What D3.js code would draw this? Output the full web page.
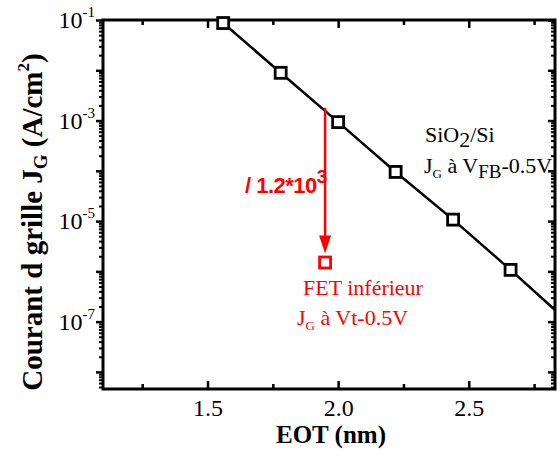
<!DOCTYPE html>
<html><head><meta charset="utf-8">
<script src="https://cdn.jsdelivr.net/npm/d3@7"></script>
<style>body{margin:0;background:#fff}</style>
</head><body><svg id="c" width="557" height="450"></svg>
<script>
// Data
const eot = [1.56, 1.78, 2.0, 2.22, 2.44, 2.66];           // nm
const jg  = [0.087, 8.9e-3, 9.3e-4, 9.5e-5, 1.07e-5, 1.07e-6]; // A/cm2
const extEOT = [2.83];   // fit line continues to the frame edge
const extJG  = [1.7e-7];
const fetEOT = [1.95];   // FET inférieur point
const fetJG  = [1.5e-6];
const arrowFromJG = [1.8e-3];
const xMajor = [1.5, 2.0, 2.5];
const xMinor = [1.25, 1.75, 2.25, 2.75];
const yLabelExp = [-1, -3, -5, -7];

const W = 557, H = 450;
const L = 103, R = 555, T = 20, B = 389;
const svg = d3.select("#c");
svg.append("rect").attr("width", W).attr("height", H).attr("fill", "#fff");

const x = d3.scaleLinear().domain([1.1, 2.83]).range([L, R]);
const y = d3.scaleLog().domain([Math.pow(10, -8.34), 0.1]).range([B, T]);

const decades = d3.range(-1, -9, -1).map(e => Math.pow(10, e));
const yMinor = [];
for (let e = -9; e <= -2; e++) for (let m = 2; m <= 9; m++) {
  const v = m * Math.pow(10, e);
  if (v >= y.domain()[0] && v <= y.domain()[1]) yMinor.push(v);
}

function styleAxis(g, sw) {
  g.select(".domain").remove();
  g.selectAll(".tick line").attr("stroke", "#000").attr("stroke-width", sw);
}
const serif = "'Liberation Serif', 'Times New Roman', serif";

// bottom
svg.append("g").attr("transform", `translate(0,${B})`)
  .call(d3.axisBottom(x).tickValues(xMajor).tickSize(-8).tickPadding(10).tickFormat(d3.format(".1f")))
  .call(g => styleAxis(g, 2.5))
  .call(g => g.selectAll("text").attr("font-family", serif).attr("font-size", 24).attr("fill", "#000"));
svg.append("g").attr("transform", `translate(0,${B})`)
  .call(d3.axisBottom(x).tickValues(xMinor).tickSize(-5).tickFormat(""))
  .call(g => styleAxis(g, 2.5));
// top
svg.append("g").attr("transform", `translate(0,${T})`)
  .call(d3.axisTop(x).tickValues(xMajor).tickSize(-8).tickFormat(""))
  .call(g => styleAxis(g, 2.5));
svg.append("g").attr("transform", `translate(0,${T})`)
  .call(d3.axisTop(x).tickValues(xMinor).tickSize(-5).tickFormat(""))
  .call(g => styleAxis(g, 2.5));
// left (outward)
svg.append("g").attr("transform", `translate(${L},0)`)
  .call(d3.axisLeft(y).tickValues(decades).tickSize(7).tickFormat(""))
  .call(g => styleAxis(g, 2.5));
svg.append("g").attr("transform", `translate(${L},0)`)
  .call(d3.axisLeft(y).tickValues(yMinor).tickSize(4).tickFormat(""))
  .call(g => styleAxis(g, 2));
// right (inward)
svg.append("g").attr("transform", `translate(${R},0)`)
  .call(d3.axisRight(y).tickValues(decades).tickSize(-7).tickFormat(""))
  .call(g => styleAxis(g, 2.5));
svg.append("g").attr("transform", `translate(${R},0)`)
  .call(d3.axisRight(y).tickValues(yMinor).tickSize(-4).tickFormat(""))
  .call(g => styleAxis(g, 2));

// frame
svg.append("rect").attr("x", L).attr("y", T).attr("width", R - L).attr("height", B - T)
  .attr("fill", "none").attr("stroke", "#000").attr("stroke-width", 3);

// y tick labels
yLabelExp.forEach(e => {
  const t = svg.append("text").attr("x", L - 8).attr("y", y(Math.pow(10, e)) + 8)
    .attr("text-anchor", "end").attr("font-family", serif).attr("font-size", 24).attr("fill", "#000");
  t.append("tspan").text("10");
  t.append("tspan").attr("font-size", 15).attr("dy", -11).text("-" + Math.abs(e));
});

// axis titles
svg.append("text").attr("x", (L + R) / 2 + 2).attr("y", 443).attr("text-anchor", "middle")
  .attr("font-family", serif).attr("font-weight", "bold").attr("font-size", 25).text("EOT (nm)");
const yt = svg.append("text").attr("transform", `translate(42,222) rotate(-90)`).attr("text-anchor", "middle")
  .attr("font-family", serif).attr("font-weight", "bold").attr("font-size", 29);
yt.append("tspan").text("Courant d grille J");
yt.append("tspan").attr("font-size", 19).attr("dy", 5).text("G");
yt.append("tspan").attr("dy", -5).text(" (A/cm");
yt.append("tspan").attr("font-size", 17).attr("dy", -13).text("2");
yt.append("tspan").attr("dy", 13).text(")");

// clip
svg.append("clipPath").attr("id", "clip").append("rect")
  .attr("x", L).attr("y", T).attr("width", R - L).attr("height", B - T);

// fit line
const lineData = eot.map((d, i) => [d, jg[i]]).concat(extEOT.map((d, i) => [d, extJG[i]]));
svg.append("path").datum(lineData).attr("clip-path", "url(#clip)")
  .attr("d", d3.line().x(d => x(d[0])).y(d => y(d[1])))
  .attr("fill", "none").attr("stroke", "#000").attr("stroke-width", 2.5);

// black squares
svg.selectAll("rect.pt").data(eot.map((d, i) => [d, jg[i]])).join("rect").attr("class", "pt")
  .attr("x", d => x(d[0]) - 5.5).attr("y", d => y(d[1]) - 5.5).attr("width", 11).attr("height", 11)
  .attr("fill", "#fff").attr("stroke", "#000").attr("stroke-width", 2.8);

// red arrow
const red = "#ff0000";
const ax = x(fetEOT[0]);
const y0 = y(arrowFromJG[0]);
const tipY = y(fetJG[0]) - 9;
svg.append("line").attr("x1", ax).attr("x2", ax).attr("y1", y0).attr("y2", tipY - 12)
  .attr("stroke", red).attr("stroke-width", 2.5);
svg.append("path").attr("d", `M${ax - 6},${tipY - 18} L${ax + 6},${tipY - 18} L${ax},${tipY} Z`).attr("fill", red);
svg.append("rect").attr("x", ax - 5.5).attr("y", y(fetJG[0]) - 5.5).attr("width", 11).attr("height", 11)
  .attr("fill", "#fff").attr("stroke", red).attr("stroke-width", 2.8);

// red factor label
const sans = "'Liberation Sans', Arial, sans-serif";
const rt = svg.append("text").attr("x", 245).attr("y", 193).attr("font-family", sans)
  .attr("font-weight", "bold").attr("font-size", 22).attr("fill", red).attr("letter-spacing", -0.5);
rt.append("tspan").text("/ 1.2*10");
rt.append("tspan").attr("font-size", 19).attr("dy", -10).text("3");

// black annotation
const a1 = svg.append("text").attr("x", 425).attr("y", 142).attr("font-family", serif).attr("font-size", 22);
a1.append("tspan").text("SiO");
a1.append("tspan").attr("dy", 5).text("2");
a1.append("tspan").attr("dy", -5).text("/Si");
const a2 = svg.append("text").attr("x", 424).attr("y", 173).attr("font-family", serif).attr("font-size", 22);
a2.append("tspan").text("J");
a2.append("tspan").attr("font-size", 13).attr("dy", 5).text("G");
a2.append("tspan").attr("dy", -5).text(" à V");
a2.append("tspan").attr("font-size", 19).attr("dy", 5).text("FB");
a2.append("tspan").attr("dy", -5).text("-0.5V");

// red annotation
svg.append("text").attr("x", 303).attr("y", 295).attr("font-family", serif).attr("font-size", 22)
  .attr("fill", red).text("FET inférieur");
const a3 = svg.append("text").attr("x", 297).attr("y", 325).attr("font-family", serif).attr("font-size", 22).attr("fill", red);
a3.append("tspan").text("J");
a3.append("tspan").attr("font-size", 13).attr("dy", 5).text("G");
a3.append("tspan").attr("dy", -5).text(" à Vt-0.5V");
</script></body></html>
